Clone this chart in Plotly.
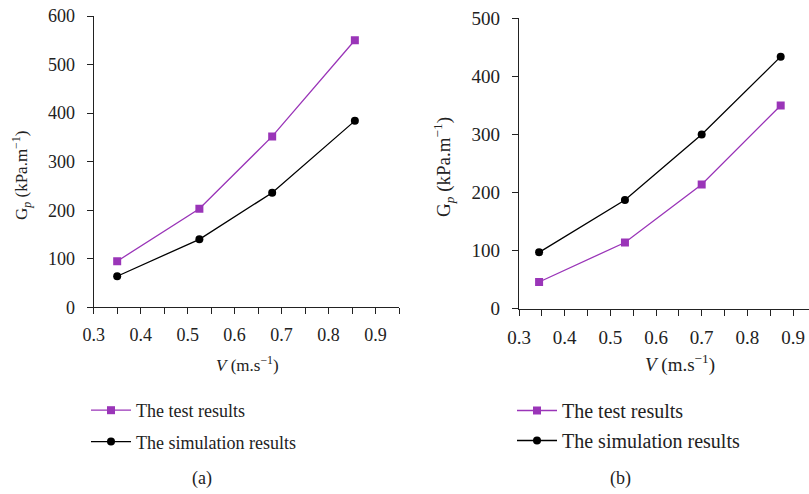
import plotly.graph_objects as go

# Panel (a)
va = [0.35, 0.525, 0.68, 0.856]
test_a = [95, 203, 352, 550]
sim_a = [64, 140, 236, 384]

# Panel (b)
vb = [0.344, 0.532, 0.70, 0.873]
test_b = [46, 114, 214, 350]
sim_b = [97, 187, 300, 434]

PURPLE = "#9A35B8"
BLACK = "#000000"
TXT = "#222"
FONT = "Liberation Serif"
W, H = 809, 494

fig = go.Figure()

def add_series(x, y, name, color, symbol, xa, ya, legend):
    fig.add_trace(go.Scatter(
        x=x, y=y, name=name, mode="lines+markers",
        line=dict(color=color, width=1.3),
        marker=dict(color=color, symbol=symbol, size=8),
        xaxis=xa, yaxis=ya, legend=legend, legendgroup=legend + name,
    ))

add_series(va, test_a, "The test results", PURPLE, "square", "x", "y", "legend")
add_series(va, sim_a, "The simulation results", BLACK, "circle", "x", "y", "legend")
add_series(vb, test_b, "The test results", PURPLE, "square", "x2", "y2", "legend2")
add_series(vb, sim_b, "The simulation results", BLACK, "circle", "x2", "y2", "legend2")


def xaxis(dom, rng, fsize, anchor):
    return dict(
        domain=dom, range=rng, anchor=anchor, automargin=False,
        showline=True, linecolor=TXT, linewidth=1.2,
        showgrid=False, zeroline=False, ticks="outside", ticklen=6, tickwidth=1,
        tickcolor=TXT, tick0=0.3, dtick=0.1, tickformat=".1f",
        minor=dict(ticks="outside", ticklen=6, tickwidth=1, tickcolor=TXT,
                   dtick=0.05, showgrid=False),
        tickfont=dict(family=FONT, size=fsize, color=TXT),
        ticklabelstandoff=5, fixedrange=True,
    )


def yaxis(dom, rng, fsize, anchor):
    return dict(
        domain=dom, range=rng, anchor=anchor, automargin=False,
        showline=True, linecolor=TXT, linewidth=1.2,
        showgrid=False, zeroline=False, ticks="outside", ticklen=6, tickwidth=1,
        tickcolor=TXT, dtick=100,
        tickfont=dict(family=FONT, size=fsize, color=TXT),
        ticklabelstandoff=8, fixedrange=True,
    )


def label(text, x, y, size, angle=0):
    return dict(text=text, x=x / W, y=1 - y / H, xref="paper", yref="paper",
                xanchor="center", yanchor="middle", textangle=angle,
                showarrow=False, font=dict(family=FONT, size=size, color=TXT))


YT = "G<sub><i>p</i></sub> (kPa.m<sup>−1</sup>)"
XT = "<i>V</i> (m.s<sup>−1</sup>)"

fig.update_layout(
    width=W, height=H, margin=dict(l=0, r=0, t=0, b=0),
    paper_bgcolor="white", plot_bgcolor="white",
    xaxis=xaxis([93.7 / W, 399 / W], [0.3, 0.95], 18, "y"),
    yaxis=yaxis([(H - 307.3) / H, (H - 16) / H], [0, 600], 18, "x"),
    xaxis2=xaxis([519 / W, 1.0], [0.3, 0.935], 19, "y2"),
    yaxis2=yaxis([(H - 308.7) / H, (H - 18.3) / H], [0, 500], 19, "x2"),
    legend=dict(x=86 / W, y=1 - 392 / H, xanchor="left", yanchor="top",
                font=dict(family=FONT, size=18, color=TXT), tracegroupgap=5,
                itemwidth=40, bgcolor="rgba(0,0,0,0)"),
    legend2=dict(x=512 / W, y=1 - 391 / H, xanchor="left", yanchor="top",
                 font=dict(family=FONT, size=20, color=TXT), tracegroupgap=1,
                 itemwidth=40, bgcolor="rgba(0,0,0,0)"),
    annotations=[
        label(YT, 21, 176, 17, -90),
        label(XT, 248, 364, 17),
        label(YT, 443, 167, 19, -90),
        label(XT, 680, 363, 19),
        label("(a)", 202, 478, 18),
        label("(b)", 620, 478, 18),
    ],
)

fig.write_html("out.html")
